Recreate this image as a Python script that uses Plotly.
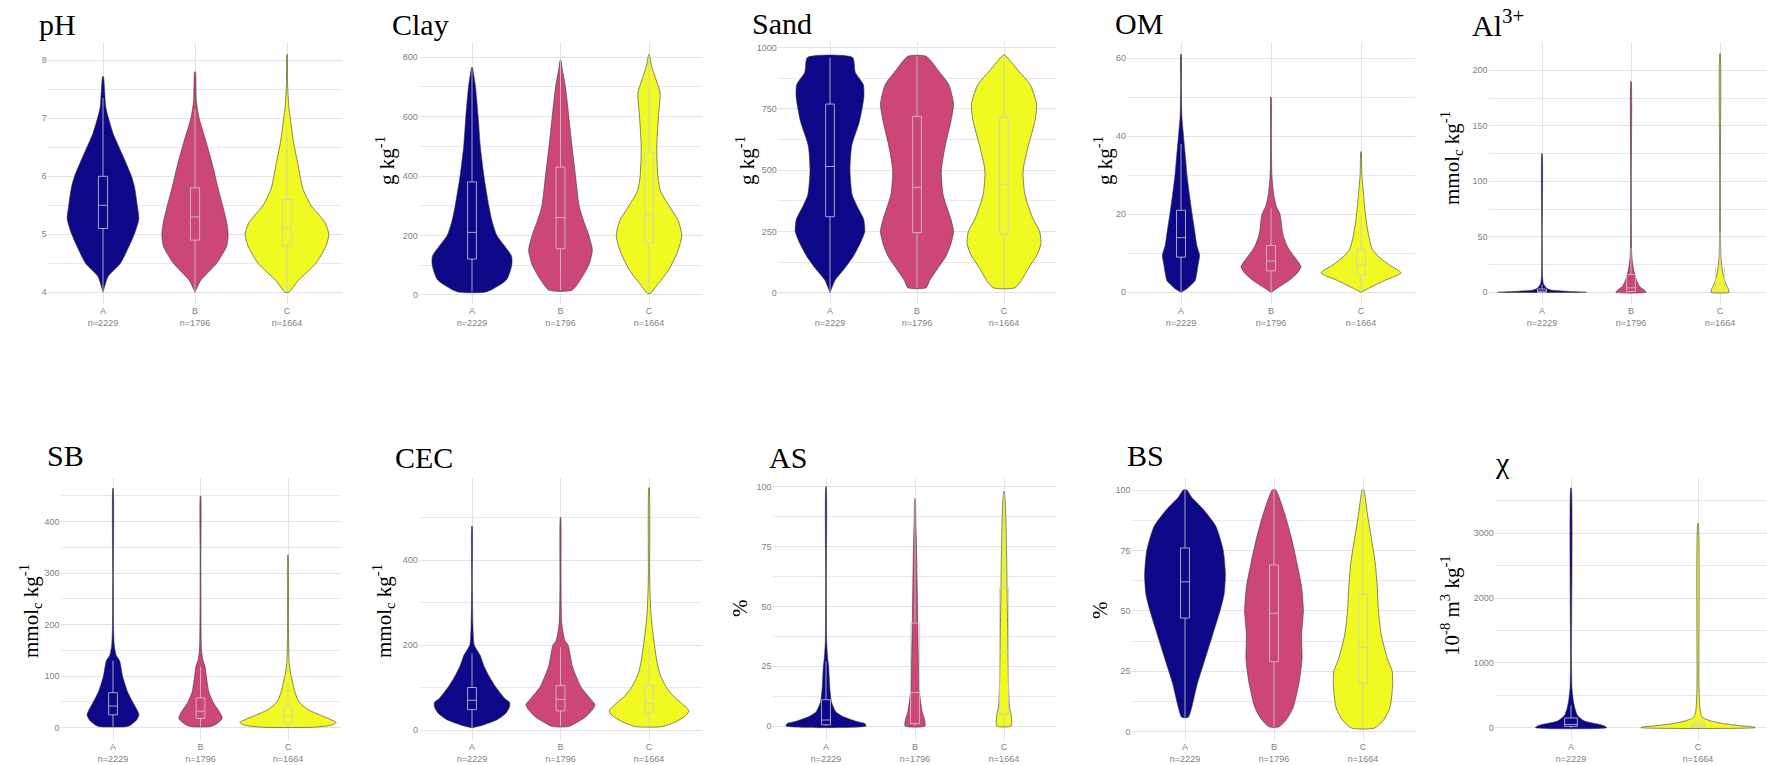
import plotly.graph_objects as go

# ---------------- data ----------------
categories = ["A", "B", "C"]
n_counts = {"A": 2229, "B": 1796, "C": 1664}
group_colors = {"A": "#0D0887", "B": "#CC4678", "C": "#F0F921"}

# violin profiles: (value, half-width in category units)
ph_A = [(4.0, 0.0), (4.27, 0.054), (4.5, 0.19), (5.0, 0.34), (5.27, 0.39), (5.47, 0.375), (5.8, 0.345), (6.0, 0.31), (6.34, 0.22), (6.74, 0.11), (7.03, 0.055), (7.2, 0.03), (7.72, 0.004)]
ph_B = [(4.0, 0.0), (4.2, 0.06), (4.5, 0.235), (4.8, 0.345), (5.0, 0.36), (5.2, 0.345), (5.5, 0.30), (5.8, 0.25), (6.2, 0.19), (6.6, 0.12), (7.0, 0.045), (7.3, 0.015), (7.8, 0.004)]
ph_C = [(4.0, 0.02), (4.2, 0.12), (4.5, 0.315), (4.8, 0.425), (5.0, 0.455), (5.2, 0.415), (5.5, 0.26), (5.8, 0.17), (6.2, 0.12), (6.6, 0.07), (7.0, 0.036), (7.2, 0.02), (7.6, 0.006), (8.1, 0.002)]

clay_A = [(10, 0.17), (50, 0.39), (100, 0.45), (130, 0.447), (200, 0.28), (250, 0.225), (300, 0.19), (400, 0.135), (500, 0.094), (600, 0.07), (700, 0.04), (740, 0.02), (765, 0.004)]
clay_B = [(15, 0.13), (50, 0.225), (100, 0.32), (150, 0.36), (200, 0.32), (250, 0.26), (300, 0.21), (400, 0.17), (500, 0.13), (600, 0.094), (700, 0.056), (760, 0.02), (790, 0.004)]
clay_C = [(5, 0.02), (30, 0.085), (80, 0.215), (150, 0.33), (200, 0.37), (250, 0.33), (300, 0.225), (350, 0.13), (400, 0.10), (500, 0.088), (600, 0.107), (680, 0.125), (720, 0.085), (770, 0.03), (810, 0.003)]

sand_A = [(0, 0.0), (50, 0.057), (100, 0.17), (150, 0.27), (200, 0.345), (250, 0.40), (300, 0.387), (350, 0.316), (400, 0.255), (500, 0.23), (600, 0.25), (700, 0.34), (800, 0.39), (850, 0.383), (900, 0.29), (960, 0.26)]
sand_B = [(20, 0.105), (50, 0.145), (100, 0.24), (150, 0.335), (200, 0.39), (250, 0.42), (300, 0.39), (400, 0.30), (500, 0.28), (600, 0.325), (700, 0.39), (770, 0.42), (850, 0.365), (900, 0.26), (965, 0.105)]
sand_C = [(20, 0.125), (50, 0.2), (100, 0.28), (150, 0.375), (200, 0.425), (250, 0.41), (300, 0.335), (400, 0.24), (500, 0.22), (600, 0.28), (700, 0.355), (770, 0.375), (850, 0.3), (900, 0.18), (940, 0.086), (970, 0.01)]

om_A = [(0, 0.0), (1, 0.07), (3, 0.157), (5, 0.176), (7, 0.19), (9.5, 0.207), (12, 0.176), (15, 0.157), (20, 0.124), (25, 0.094), (30, 0.067), (35, 0.048), (40, 0.028), (45, 0.01), (52, 0.004), (61, 0.002)]
om_B = [(0, 0.0), (1, 0.065), (3, 0.2), (5, 0.296), (6.5, 0.333), (8, 0.296), (10, 0.23), (12, 0.176), (15, 0.13), (20, 0.1), (22, 0.06), (25, 0.03), (30, 0.01), (40, 0.004), (50, 0.002)]
om_C = [(0, 0.0), (1, 0.083), (3, 0.26), (5, 0.444), (7, 0.315), (9, 0.2), (11, 0.126), (14, 0.09), (18, 0.06), (22, 0.04), (26, 0.025), (30, 0.01), (36, 0.002)]

al_A = [(0, 0.5), (1, 0.26), (2, 0.1), (4, 0.047), (6, 0.03), (8, 0.015), (15, 0.006), (50, 0.003), (125, 0.002)]
al_B = [(0, 0.17), (2, 0.15), (5, 0.1), (10, 0.066), (15, 0.047), (20, 0.03), (30, 0.012), (40, 0.006), (100, 0.003), (190, 0.002)]
al_C = [(0, 0.1), (3, 0.094), (6, 0.075), (10, 0.056), (15, 0.038), (20, 0.026), (30, 0.012), (50, 0.005), (100, 0.003), (215, 0.002)]

sb_A = [(2, 0.15), (5, 0.2), (15, 0.27), (25, 0.297), (35, 0.274), (50, 0.225), (70, 0.166), (100, 0.11), (130, 0.076), (140, 0.038), (160, 0.015), (200, 0.006), (300, 0.004), (465, 0.002)]
sb_B = [(2, 0.1), (5, 0.16), (15, 0.238), (20, 0.248), (30, 0.22), (50, 0.143), (70, 0.095), (100, 0.067), (120, 0.051), (130, 0.03), (150, 0.012), (320, 0.004), (450, 0.002)]
sb_C = [(1, 0.3), (5, 0.5), (10, 0.55), (15, 0.5), (25, 0.36), (35, 0.23), (50, 0.124), (70, 0.078), (90, 0.05), (110, 0.025), (130, 0.012), (200, 0.005), (335, 0.002)]

cec_A = [(5, 0.0), (10, 0.1), (25, 0.29), (40, 0.385), (55, 0.425), (65, 0.425), (75, 0.367), (100, 0.273), (125, 0.198), (150, 0.137), (175, 0.094), (185, 0.066), (200, 0.025), (250, 0.01), (350, 0.004), (480, 0.002)]
cec_B = [(8, 0.09), (15, 0.16), (30, 0.28), (50, 0.37), (60, 0.39), (75, 0.333), (100, 0.235), (125, 0.18), (150, 0.134), (200, 0.085), (210, 0.05), (250, 0.015), (350, 0.006), (500, 0.002)]
cec_C = [(8, 0.15), (20, 0.31), (35, 0.42), (45, 0.45), (60, 0.385), (80, 0.273), (100, 0.198), (130, 0.126), (160, 0.09), (200, 0.062), (240, 0.038), (280, 0.02), (350, 0.008), (570, 0.002)]

as_A = [(0, 0.45), (1, 0.437), (2, 0.337), (4, 0.19), (6, 0.11), (10, 0.062), (15, 0.045), (20, 0.037), (25, 0.03), (28, 0.02), (35, 0.008), (60, 0.004), (100, 0.002)]
as_B = [(0, 0.112), (3, 0.105), (6, 0.08), (10, 0.064), (15, 0.047), (30, 0.037), (45, 0.03), (60, 0.024), (75, 0.017), (85, 0.01), (95, 0.002)]
as_C = [(0, 0.08), (5, 0.08), (8, 0.062), (15, 0.052), (30, 0.045), (50, 0.037), (70, 0.03), (85, 0.022), (95, 0.012), (98, 0.002)]

bs_A = [(6, 0.037), (10, 0.075), (20, 0.14), (30, 0.225), (40, 0.31), (50, 0.394), (57, 0.44), (65, 0.454), (75, 0.43), (85, 0.347), (92, 0.206), (97, 0.075), (100, 0.02)]
bs_B = [(2, 0.056), (5, 0.14), (10, 0.215), (20, 0.28), (30, 0.315), (40, 0.31), (50, 0.33), (60, 0.31), (70, 0.257), (80, 0.197), (90, 0.122), (98, 0.047), (100, 0.02)]
bs_C = [(1.5, 0.13), (5, 0.235), (10, 0.304), (20, 0.334), (25, 0.328), (30, 0.276), (40, 0.206), (50, 0.174), (60, 0.16), (70, 0.137), (80, 0.094), (90, 0.05), (100, 0.008)]

chi_A = [(0, 0.28), (30, 0.26), (50, 0.228), (100, 0.11), (150, 0.072), (200, 0.048), (300, 0.031), (400, 0.02), (600, 0.008), (1000, 0.004), (3700, 0.002)]
chi_C = [(0, 0.45), (10, 0.44), (30, 0.34), (60, 0.21), (100, 0.11), (130, 0.065), (150, 0.04), (200, 0.025), (300, 0.015), (600, 0.008), (3150, 0.002)]

# box statistics: (lower whisker, q1, median, q3, upper whisker)
ph_box = {"A": (4.0, 5.1, 5.5, 6.0, 7.35), "B": (4.0, 4.9, 5.3, 5.8, 7.15), "C": (4.0, 4.8, 5.1, 5.6, 6.8)}
clay_box = {"A": (10, 120, 210, 380, 760), "B": (15, 155, 260, 430, 790), "C": (5, 175, 270, 480, 810)}
sand_box = {"A": (0, 310, 515, 770, 960), "B": (20, 245, 430, 720, 965), "C": (20, 240, 440, 715, 970)}
om_box = {"A": (0, 9, 14, 21, 38), "B": (0, 5.5, 8, 12, 21.5), "C": (0, 4.5, 7, 11, 20)}
al_box = {"A": (0, 0, 1, 3, 7), "B": (0, 0.5, 4, 16, 40), "C": (0, 1, 7, 23, 55)}
sb_box = {"A": (2, 25, 42, 68, 130), "B": (2, 18, 32, 58, 118), "C": (2, 10, 22, 40, 85)}
cec_box = {"A": (5, 48, 70, 100, 180), "B": (8, 45, 72, 105, 195), "C": (8, 40, 62, 105, 200)}
as_box = {"A": (0, 0.5, 2.5, 11, 27), "B": (0, 1, 14, 43, 95), "C": (0, 5, 31, 58, 97)}
bs_box = {"A": (6, 47, 62, 76, 100), "B": (2, 29, 49, 69, 100), "C": (1.5, 20, 35, 57, 100)}
chi_box = {"A": (0, 20, 50, 150, 345), "C": (0, 10, 25, 60, 135)}

panel_titles = ["pH", "Clay", "Sand", "OM", "Al<sup>3+</sup>", "SB", "CEC", "AS", "BS", "χ"]
unit_labels = ["", "g kg<sup>-1</sup>", "g kg<sup>-1</sup>", "g kg<sup>-1</sup>", "mmol<sub>c</sub> kg<sup>-1</sup>",
               "mmol<sub>c</sub> kg<sup>-1</sup>", "mmol<sub>c</sub> kg<sup>-1</sup>", "%", "%", "10<sup>-8</sup> m<sup>3</sup> kg<sup>-1</sup>"]
panel_groups = [categories] * 9 + [["A", "C"]]
panel_profiles = [
    {"A": ph_A, "B": ph_B, "C": ph_C},
    {"A": clay_A, "B": clay_B, "C": clay_C},
    {"A": sand_A, "B": sand_B, "C": sand_C},
    {"A": om_A, "B": om_B, "C": om_C},
    {"A": al_A, "B": al_B, "C": al_C},
    {"A": sb_A, "B": sb_B, "C": sb_C},
    {"A": cec_A, "B": cec_B, "C": cec_C},
    {"A": as_A, "B": as_B, "C": as_C},
    {"A": bs_A, "B": bs_B, "C": bs_C},
    {"A": chi_A, "C": chi_C},
]
panel_boxes = [ph_box, clay_box, sand_box, om_box, al_box, sb_box, cec_box, as_box, bs_box, chi_box]
panel_dticks = [1, 200, 250, 20, 50, 100, 200, 25, 25, 1000]

# ---------------- layout geometry (pixels) ----------------
W, H = 1767, 765
# first category centre px, px per category unit
x_geom = [(103, 92), (472, 88.5), (830, 87), (1181, 90), (1542, 89),
          (113, 87.5), (472, 88.5), (826, 89), (1185, 89), (1571, 127)]
rows = [(42, 304)] * 5 + [(478, 740)] * 5
# (low tick value, its px, high tick value, its px)
y_ticks_px = [(4, 292.3, 8, 60.3), (0, 294.7, 800, 57.3), (0, 292.7, 1000, 47.7), (0, 292.3, 60, 58),
              (0, 292.3, 200, 70.3), (0, 727.7, 400, 521.7), (0, 730, 400, 560), (0, 726, 100, 486.7),
              (0, 731.7, 100, 490), (0, 727.7, 3000, 533.3)]
# title: (left px, baseline px); unit label: (centre x px, centre y px)
title_pos = [(37, 34), (390, 34), (750, 33), (1113, 33), (1470, 33),
             (45, 465), (393, 467), (767, 467), (1125, 465), (1493, 472)]
unit_pos = [(0, 0), (385, 161), (745, 161), (1103, 161), (1452, 158),
            (30, 611), (383, 611), (740, 608), (1100, 610), (1450, 606)]

SANS = "Liberation Sans, Arial, sans-serif"
SERIF = "Liberation Serif, Times New Roman, serif"
GRID = "#e3e3e3"
BOXCOL = "rgba(205,205,205,0.8)"
BOX_HALF = 0.05

fig = go.Figure()
annotations = []

for k in range(10):
    idx = k + 1
    xa = "x" if idx == 1 else f"x{idx}"
    ya = "y" if idx == 1 else f"y{idx}"
    groups = panel_groups[k]
    c1, ppu = x_geom[k]
    xl = c1 - 0.6 * ppu
    xr = min(xl + (len(groups) + 0.2) * ppu, W)
    xrange = [0.4, 0.4 + (xr - xl) / ppu]
    top, bot = rows[k]
    v_lo, p_lo, v_hi, p_hi = y_ticks_px[k]
    scale = (v_hi - v_lo) / (p_lo - p_hi)
    y_top = v_hi + (p_hi - top) * scale
    y_bot = v_lo - (bot - p_lo) * scale

    for gi, g in enumerate(groups):
        c = gi + 1
        prof = panel_profiles[k][g]
        xs = [c - hw for v, hw in prof] + [c + hw for v, hw in reversed(prof)]
        ys = [v for v, hw in prof] + [v for v, hw in reversed(prof)]
        xs.append(xs[0]); ys.append(ys[0])
        fig.add_trace(go.Scatter(x=xs, y=ys, xaxis=xa, yaxis=ya, mode="lines", fill="toself",
                                 fillcolor=group_colors[g],
                                 line=dict(color="#3a3a3a", width=0.6, shape="spline", smoothing=0.6),
                                 hoverinfo="skip", showlegend=False))
        lo, q1, med, q3, hi = panel_boxes[k][g]
        bx = [c, c, None, c - BOX_HALF, c + BOX_HALF, c + BOX_HALF, c - BOX_HALF, c - BOX_HALF, None,
              c - BOX_HALF, c + BOX_HALF, None, c, c]
        by = [lo, q1, None, q1, q1, q3, q3, q1, None, med, med, None, q3, hi]
        fig.add_trace(go.Scatter(x=bx, y=by, xaxis=xa, yaxis=ya, mode="lines",
                                 line=dict(color=BOXCOL, width=1),
                                 hoverinfo="skip", showlegend=False))

    ticktext = [f"{g}<br>n={n_counts[g]}" for g in groups]
    fig.layout[f"xaxis{'' if idx == 1 else idx}"] = dict(
        domain=[xl / W, xr / W], range=xrange, anchor=ya,
        tickvals=list(range(1, len(groups) + 1)), ticktext=ticktext,
        showgrid=True, gridcolor=GRID, gridwidth=1, zeroline=False, showline=False, ticks="",
        tickfont=dict(family=SANS, size=9, color="#7f7f7f"), fixedrange=True)
    fig.layout[f"yaxis{'' if idx == 1 else idx}"] = dict(
        domain=[1 - bot / H, 1 - top / H], range=[y_bot, y_top], anchor=xa,
        dtick=panel_dticks[k], tick0=0,
        showgrid=True, gridcolor=GRID, gridwidth=1, zeroline=False, showline=False, ticks="",
        minor=dict(dtick=panel_dticks[k] / 2, showgrid=True, gridcolor=GRID, gridwidth=0.8),
        tickfont=dict(family=SANS, size=9, color="#7f7f7f"), fixedrange=True)

    tx, tb = title_pos[k]
    annotations.append(dict(text=panel_titles[k], xref="paper", yref="paper",
                            x=tx / W, y=1 - (tb - 10) / H, xanchor="left", yanchor="middle",
                            showarrow=False, font=dict(family=SERIF, size=30, color="black")))
    if unit_labels[k]:
        ux, uy = unit_pos[k]
        annotations.append(dict(text=unit_labels[k], xref="paper", yref="paper",
                                x=ux / W, y=1 - uy / H, xanchor="center", yanchor="middle",
                                textangle=-90, showarrow=False,
                                font=dict(family=SERIF, size=21, color="black")))

fig.update_layout(width=W, height=H, margin=dict(l=0, r=0, t=0, b=0),
                  paper_bgcolor="white", plot_bgcolor="white",
                  annotations=annotations, showlegend=False)

fig.write_html("out.html", config={"displayModeBar": False, "staticPlot": True},
               post_script="document.body.style.margin='0';")
